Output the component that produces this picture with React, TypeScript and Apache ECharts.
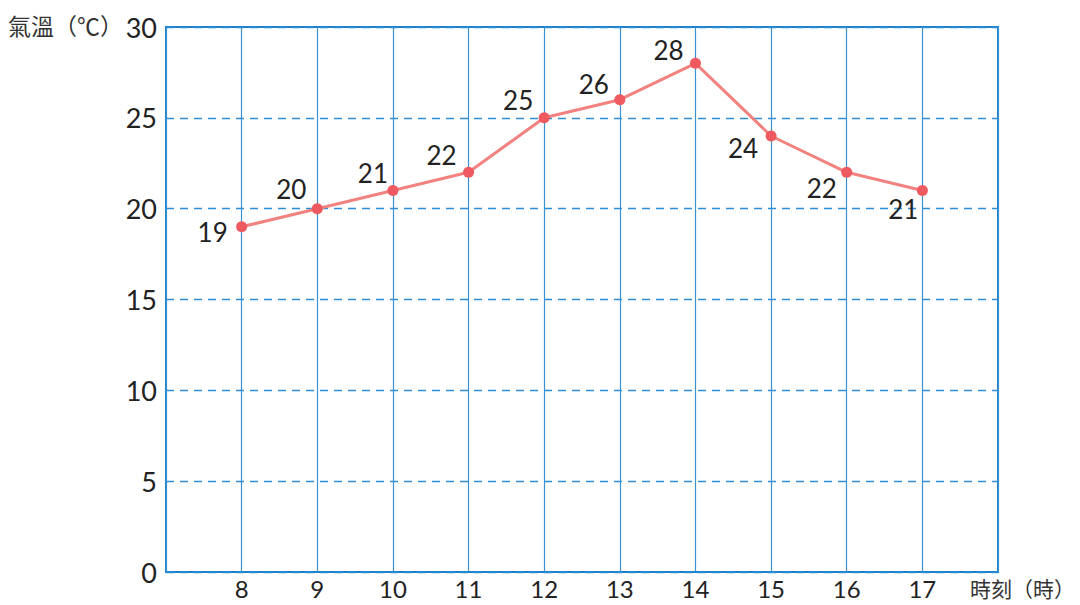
import React, { useEffect, useRef } from "react";
import * as echarts from "echarts";

const hours = [8, 9, 10, 11, 12, 13, 14, 15, 16, 17];
const temps = [19, 20, 21, 22, 25, 26, 28, 24, 22, 21];
const labelOffsets: [number, number][] = [
  [-29, 5], [-26, -20], [-20, -18], [-27, -17], [-26, -18],
  [-26, -16], [-27, -13], [-28, 12], [-25, 16], [-19, 18],
];
const yTicks = [0, 5, 10, 15, 20, 25, 30];

export default function App() {
  const ref = useRef<HTMLDivElement>(null);
  useEffect(() => {
    if (!ref.current) return;
    const chart = echarts.init(ref.current, undefined, { renderer: "svg" });
    const digitFont = "Lato, 'Open Sans', sans-serif";
    chart.setOption({
      animation: false,
      backgroundColor: "#ffffff",
      grid: {
        left: 166,
        top: 27,
        width: 832,
        height: 545,
        show: true,
        borderColor: "#1f7fc8",
        borderWidth: 2,
        backgroundColor: "transparent",
      },
      xAxis: {
        type: "value",
        min: 7,
        max: 18,
        interval: 1,
        axisLine: { show: false },
        axisTick: { show: false },
        axisLabel: {
          color: "#222",
          fontSize: 24,
          lineHeight: 20,
          fontFamily: digitFont,
          margin: 6,
          formatter: (v: number) => (hours.includes(v) ? String(v) : ""),
        },
        splitLine: { show: true, lineStyle: { color: "#3a92d2", width: 1.2 } },
      },
      yAxis: {
        type: "value",
        min: yTicks[0],
        max: yTicks[yTicks.length - 1],
        interval: 5,
        axisLine: { show: false },
        axisTick: { show: false },
        axisLabel: {
          color: "#222",
          fontSize: 27,
          fontFamily: digitFont,
          margin: 9,
        },
        splitLine: {
          show: true,
          lineStyle: { color: "#2b8fd8", width: 1.4, type: [8, 6], opacity: 1 },
        },
      },
      graphic: [
        {
          type: "text",
          left: 8,
          top: 13,
          style: {
            text: "氣溫（℃）",
            fontSize: 23,
            fontFamily: "'Noto Sans CJK TC', sans-serif",
            fill: "#333",
          },
        },
        {
          type: "text",
          left: 970,
          top: 577,
          style: {
            text: "時刻（時）",
            fontSize: 21,
            fontFamily: "'Noto Sans CJK TC', sans-serif",
            fill: "#333",
          },
        },
      ],
      series: [
        {
          type: "line",
          data: hours.map((h, i) => ({
            value: [h, temps[i]],
            label: { offset: labelOffsets[i] },
          })),
          symbol: "circle",
          symbolSize: 11,
          lineStyle: { color: "#f2827f", width: 3 },
          itemStyle: { color: "#ee5a5f" },
          label: {
            show: true,
            position: "inside",
            color: "#222",
            textBorderWidth: 0,
            fontSize: 26,
            fontFamily: digitFont,
            formatter: (p: any) => String(p.value[1]),
          },
          z: 5,
        },
      ],
    });
    return () => chart.dispose();
  }, []);
  return (
    <div
      ref={ref}
      style={{ position: "fixed", left: 0, top: 0, width: 1080, height: 605 }}
    />
  );
}
